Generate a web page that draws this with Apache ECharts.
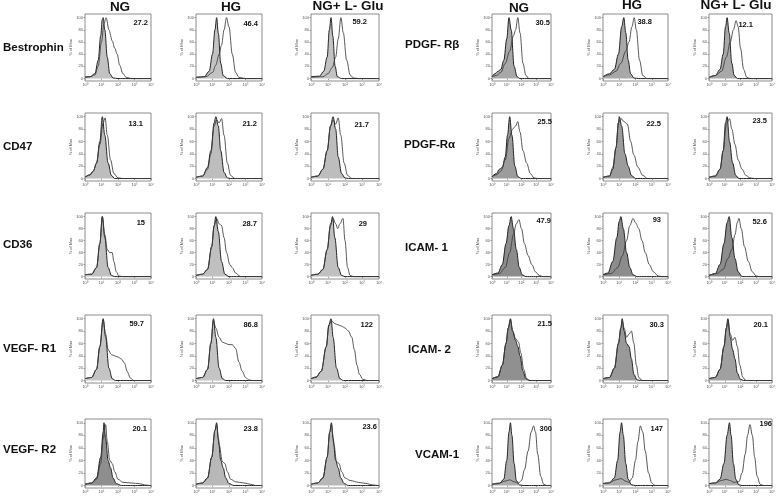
<!DOCTYPE html>
<html><head><meta charset="utf-8">
<script src="https://cdn.jsdelivr.net/npm/echarts@6/dist/echarts.min.js"></script>
<style>html,body{margin:0;padding:0;background:#fff}#c{width:781px;height:497px}</style>
</head><body><div id="c"></div>
<script>
// ---------- text / categories ----------
const leftMarkers = ['Bestrophin', 'CD47', 'CD36', 'VEGF- R1', 'VEGF- R2'];
const rightMarkers = ['PDGF- R\u03b2', 'PDGF-R\u03b1', 'ICAM- 1', 'ICAM- 2', 'VCAM-1'];
const conditions = ['NG', 'HG', 'NG+ L- Glu', 'NG', 'HG', 'NG+ L- Glu'];
const xTickValues = [0, 1, 2, 3, 4];            // log10 decades
const xTickLabels = ['10\u2070', '10\u00b9', '10\u00b2', '10\u00b3', '10\u2074'];
const yTickValues = [0, 20, 40, 60, 80, 100];
const yAxisTitle = '% of Max';

// MFI numbers shown in each panel (row by row, 6 columns)
const mfiRow1 = ['27.2', '46.4', '59.2', '30.5', '38.8', '12.1'];
const mfiRow2 = ['13.1', '21.2', '21.7', '25.5', '22.5', '23.5'];
const mfiRow3 = ['15', '28.7', '29', '47.9', '93', '52.6'];
const mfiRow4 = ['59.7', '86.8', '122', '21.5', '30.3', '20.1'];
const mfiRow5 = ['20.1', '23.8', '23.6', '300', '147', '196'];

// ---------- histogram curves: [log10 fluorescence, % of max] ----------
// Bestrophin
const bestNG_ctrl = [[0,2],[0.3,3],[0.6,8],[0.8,30],[0.95,70],[1.05,97],[1.1,100],[1.2,80],[1.35,35],[1.5,8],[1.7,1],[2,0],[4,0]];
const bestNG_samp = [[0,3],[0.3,3],[0.6,6],[0.8,20],[1.0,60],[1.15,90],[1.28,100],[1.45,80],[1.65,62],[1.8,50],[1.95,40],[2.1,22],[2.3,8],[2.5,2],[2.8,0],[4,0]];
const bestHG_ctrl = [[0,2],[0.5,3],[0.8,12],[1.0,40],[1.15,80],[1.25,100],[1.35,75],[1.5,25],[1.65,5],[1.9,0],[4,0]];
const bestHG_samp = [[0,2],[0.6,3],[1.0,10],[1.2,22],[1.4,40],[1.55,55],[1.7,80],[1.85,100],[2.0,85],[2.2,40],[2.4,10],[2.6,2],[3,0],[4,0]];
const bestGlu_ctrl = [[0,3],[0.5,4],[0.75,12],[0.95,35],[1.08,80],[1.18,100],[1.28,70],[1.42,20],[1.55,3],[1.8,0],[4,0]];
const bestGlu_samp = [[0,2],[0.7,3],[1.0,8],[1.25,18],[1.45,35],[1.6,65],[1.76,100],[1.9,75],[2.1,30],[2.3,6],[2.5,1],[2.8,0],[4,0]];
// PDGF-Rbeta
const pdgfbNG_ctrl = [[0,3],[0.2,8],[0.4,12],[0.6,15],[0.8,30],[1.0,65],[1.15,100],[1.3,80],[1.5,20],[1.7,3],[1.9,0],[4,0]];
const pdgfbNG_samp = [[0,3],[0.3,5],[0.6,10],[0.9,25],[1.2,45],[1.45,70],[1.6,80],[1.75,100],[1.9,75],[2.1,25],[2.3,5],[2.5,0],[4,0]];
const pdgfbHG_ctrl = [[0,3],[0.4,8],[0.7,15],[0.95,40],[1.15,85],[1.28,100],[1.4,75],[1.55,30],[1.7,8],[1.9,1],[2.2,0],[4,0]];
const pdgfbHG_samp = [[0,3],[0.4,6],[0.8,12],[1.1,25],[1.4,45],[1.6,60],[1.78,85],[1.92,100],[2.05,80],[2.25,30],[2.45,5],[2.7,0],[4,0]];
const pdgfbGlu_ctrl = [[0,2],[0.4,5],[0.7,15],[0.9,40],[1.05,85],[1.15,100],[1.28,75],[1.45,25],[1.6,5],[1.8,0],[4,0]];
const pdgfbGlu_samp = [[0,2],[0.4,5],[0.8,12],[1.1,35],[1.35,60],[1.55,80],[1.72,95],[1.85,85],[2.0,50],[2.2,15],[2.4,2],[2.6,0],[4,0]];
// CD47
const cd47NG_ctrl = [[0,2],[0.3,6],[0.5,12],[0.7,25],[0.9,60],[1.05,100],[1.2,70],[1.4,25],[1.6,5],[1.8,0],[4,0]];
const cd47NG_samp = [[0,2],[0.3,6],[0.5,12],[0.7,25],[0.9,55],[1.1,90],[1.22,98],[1.35,70],[1.55,30],[1.75,8],[2.0,1],[2.3,0],[4,0]];
const cd47HG_ctrl = [[0,2],[0.4,4],[0.7,18],[0.9,45],[1.1,90],[1.2,100],[1.35,85],[1.5,45],[1.7,10],[1.9,1],[2.1,0],[4,0]];
const cd47HG_samp = [[0,2],[0.4,4],[0.7,15],[0.9,40],[1.1,85],[1.25,95],[1.4,90],[1.55,97],[1.7,70],[1.9,25],[2.1,5],[2.35,0],[4,0]];
const cd47Glu_ctrl = [[0,2],[0.4,4],[0.7,15],[0.95,45],[1.15,85],[1.3,100],[1.45,80],[1.6,35],[1.8,8],[2.0,1],[2.2,0],[4,0]];
const cd47Glu_samp = [[0,2],[0.4,4],[0.7,15],[0.95,45],[1.15,85],[1.3,95],[1.45,88],[1.6,98],[1.75,70],[1.95,25],[2.15,5],[2.4,0],[4,0]];
// PDGF-Ralpha
const pdgfaNG_ctrl = [[0,3],[0.3,8],[0.5,15],[0.7,18],[0.9,35],[1.05,70],[1.2,100],[1.35,70],[1.55,20],[1.75,3],[2.0,0],[4,0]];
const pdgfaNG_samp = [[0,3],[0.3,6],[0.6,12],[0.9,30],[1.15,65],[1.4,80],[1.6,85],[1.75,92],[1.9,75],[2.1,45],[2.35,25],[2.6,8],[2.85,1],[3.1,0],[4,0]];
const pdgfaHG_ctrl = [[0,2],[0.4,4],[0.6,15],[0.8,50],[0.95,90],[1.0,100],[1.15,85],[1.35,40],[1.55,20],[1.75,5],[2.0,0],[4,0]];
const pdgfaHG_samp = [[0,2],[0.4,4],[0.6,18],[0.8,50],[0.95,90],[1.1,97],[1.3,92],[1.5,88],[1.7,60],[1.9,38],[2.15,18],[2.45,5],[2.75,0],[4,0]];
const pdgfaGlu_ctrl = [[0,2],[0.4,4],[0.7,15],[0.9,45],[1.05,90],[1.15,100],[1.3,60],[1.5,25],[1.7,5],[1.9,0],[4,0]];
const pdgfaGlu_samp = [[0,2],[0.4,4],[0.7,15],[0.9,45],[1.1,88],[1.3,97],[1.45,80],[1.65,55],[1.85,30],[2.1,15],[2.35,5],[2.6,1],[2.9,0],[4,0]];
// CD36
const cd36NG_ctrl = [[0,3],[0.4,4],[0.7,15],[0.9,55],[1.05,100],[1.2,65],[1.4,15],[1.6,2],[1.8,0],[4,0]];
const cd36NG_samp = [[0,3],[0.4,4],[0.7,15],[0.9,55],[1.05,100],[1.2,70],[1.35,45],[1.5,40],[1.65,40],[1.75,25],[1.9,8],[2.05,1],[2.3,0],[4,0]];
const cd36HG_ctrl = [[0,2],[0.4,4],[0.7,12],[0.95,50],[1.1,85],[1.2,100],[1.35,75],[1.55,25],[1.75,4],[2.0,0],[4,0]];
const cd36HG_samp = [[0,2],[0.4,4],[0.7,12],[0.95,50],[1.1,85],[1.25,97],[1.4,88],[1.55,85],[1.7,65],[1.85,40],[2.05,20],[2.2,15],[2.4,6],[2.7,0],[4,0]];
const cd36Glu_ctrl = [[0,2],[0.4,4],[0.7,12],[0.95,45],[1.15,85],[1.27,100],[1.4,65],[1.6,15],[1.8,2],[2.0,0],[4,0]];
const cd36Glu_samp = [[0,2],[0.4,4],[0.7,12],[0.95,45],[1.15,88],[1.3,97],[1.45,88],[1.57,80],[1.7,88],[1.88,97],[2.0,60],[2.15,15],[2.3,2],[2.5,0],[4,0]];
// ICAM-1
const icam1NG_ctrl = [[0,3],[0.4,6],[0.7,20],[0.95,55],[1.15,85],[1.3,100],[1.45,80],[1.65,45],[1.85,15],[2.05,3],[2.3,0],[4,0]];
const icam1NG_samp = [[0,3],[0.5,5],[0.9,15],[1.2,40],[1.45,70],[1.65,88],[1.82,95],[2.0,80],[2.2,55],[2.45,35],[2.7,20],[2.95,8],[3.2,2],[3.45,0],[4,0]];
const icam1HG_ctrl = [[0,3],[0.3,6],[0.6,25],[0.85,65],[1.0,92],[1.1,100],[1.25,80],[1.45,40],[1.65,15],[1.85,3],[2.1,0],[4,0]];
const icam1HG_samp = [[0,3],[0.5,5],[0.9,15],[1.2,35],[1.45,60],[1.65,85],[1.85,97],[2.0,90],[2.2,80],[2.4,60],[2.6,40],[2.85,20],[3.1,8],[3.4,1],[3.6,0],[4,0]];
const icam1Glu_ctrl = [[0,2],[0.4,5],[0.7,20],[0.95,55],[1.15,90],[1.28,100],[1.45,65],[1.65,30],[1.85,8],[2.1,0],[4,0]];
const icam1Glu_samp = [[0,2],[0.5,5],[0.9,12],[1.2,30],[1.45,45],[1.65,70],[1.8,90],[1.9,97],[2.05,80],[2.25,50],[2.5,25],[2.75,8],[3.0,1],[3.2,0],[4,0]];
// VEGF-R1
const vr1NG_ctrl = [[0,3],[0.4,5],[0.7,18],[0.9,55],[1.1,100],[1.25,70],[1.45,20],[1.65,3],[1.85,0],[4,0]];
const vr1NG_samp = [[0,3],[0.4,5],[0.7,18],[0.9,55],[1.1,98],[1.25,75],[1.4,50],[1.6,42],[1.8,40],[2.0,38],[2.2,35],[2.4,28],[2.55,15],[2.75,4],[2.95,0],[4,0]];
const vr1HG_ctrl = [[0,3],[0.4,5],[0.7,18],[0.9,60],[1.06,100],[1.2,70],[1.4,20],[1.6,3],[1.8,0],[4,0]];
const vr1HG_samp = [[0,3],[0.4,5],[0.7,18],[0.9,60],[1.06,97],[1.2,85],[1.4,70],[1.6,62],[1.8,60],[2.0,58],[2.2,58],[2.4,52],[2.6,30],[2.8,15],[3.0,5],[3.2,1],[3.4,0],[4,0]];
const vr1Glu_ctrl = [[0,3],[0.3,5],[0.6,15],[0.9,55],[1.05,90],[1.18,100],[1.3,70],[1.5,20],[1.7,3],[1.9,0],[4,0]];
const vr1Glu_samp = [[0,3],[0.3,6],[0.6,15],[0.9,55],[1.05,88],[1.2,97],[1.4,92],[1.6,90],[1.8,88],[2.0,85],[2.2,80],[2.4,70],[2.55,50],[2.7,25],[2.85,10],[3.05,2],[3.3,0],[4,0]];
// ICAM-2
const icam2NG_ctrl = [[0,3],[0.4,6],[0.7,25],[0.95,60],[1.1,85],[1.25,100],[1.4,80],[1.6,65],[1.75,55],[1.9,40],[2.1,15],[2.3,3],[2.5,0],[4,0]];
const icam2NG_samp = [[0,3],[0.4,6],[0.7,25],[0.95,60],[1.1,85],[1.25,98],[1.4,80],[1.6,68],[1.8,62],[1.95,45],[2.15,18],[2.35,3],[2.6,0],[4,0]];
const icam2HG_ctrl = [[0,3],[0.4,5],[0.7,20],[0.95,60],[1.1,85],[1.18,100],[1.3,80],[1.45,60],[1.6,55],[1.75,35],[1.9,10],[2.1,1],[2.3,0],[4,0]];
const icam2HG_samp = [[0,3],[0.4,5],[0.7,20],[0.95,60],[1.1,85],[1.18,97],[1.3,85],[1.45,70],[1.6,75],[1.75,80],[1.9,60],[2.05,25],[2.2,5],[2.4,0],[4,0]];
const icam2Glu_ctrl = [[0,3],[0.4,5],[0.7,18],[0.95,55],[1.1,85],[1.2,100],[1.35,70],[1.5,50],[1.65,35],[1.8,12],[2.0,2],[2.2,0],[4,0]];
const icam2Glu_samp = [[0,3],[0.4,5],[0.7,18],[0.95,55],[1.1,85],[1.2,97],[1.35,75],[1.5,65],[1.65,70],[1.8,55],[1.95,25],[2.15,5],[2.35,0],[4,0]];
// VEGF-R2
const vr2NG_ctrl = [[0,2],[0.4,4],[0.7,12],[0.95,45],[1.1,85],[1.15,100],[1.25,75],[1.4,40],[1.55,28],[1.7,12],[1.9,3],[2.2,0],[4,0]];
const vr2NG_samp = [[0,2],[0.4,4],[0.7,10],[0.95,35],[1.1,75],[1.25,97],[1.35,70],[1.5,40],[1.65,35],[1.8,22],[2.0,10],[2.3,5],[2.8,4],[3.3,3],[3.6,1],[3.9,0],[4,0]];
const vr2HG_ctrl = [[0,2],[0.4,4],[0.7,12],[0.95,45],[1.15,88],[1.25,100],[1.35,75],[1.5,40],[1.65,28],[1.8,12],[2.0,3],[2.3,0],[4,0]];
const vr2HG_samp = [[0,2],[0.4,4],[0.7,12],[0.95,45],[1.15,88],[1.25,97],[1.4,65],[1.6,38],[1.75,35],[1.9,22],[2.1,10],[2.4,6],[2.9,4],[3.3,2],[3.6,0],[4,0]];
const vr2Glu_ctrl = [[0,2],[0.4,4],[0.7,12],[0.95,45],[1.1,85],[1.2,100],[1.3,75],[1.45,40],[1.6,28],[1.75,12],[1.95,3],[2.2,0],[4,0]];
const vr2Glu_samp = [[0,2],[0.4,4],[0.7,12],[0.95,45],[1.1,85],[1.2,97],[1.35,65],[1.5,38],[1.65,35],[1.8,22],[2.0,12],[2.3,8],[2.8,5],[3.3,3],[3.6,1],[3.9,0],[4,0]];
// VCAM-1
const vcamNG_ctrl = [[0,2],[0.5,3],[0.8,10],[1.0,40],[1.15,85],[1.25,100],[1.35,80],[1.5,35],[1.65,8],[1.85,1],[2.1,0],[4,0]];
const vcamNG_samp = [[0,2],[0.5,4],[0.9,7],[1.2,9],[1.5,6],[1.8,4],[2.0,8],[2.2,25],[2.45,55],[2.65,85],[2.82,95],[2.95,85],[3.1,50],[3.3,15],[3.5,2],[3.7,0],[4,0]];
const vcamHG_ctrl = [[0,3],[0.4,4],[0.7,12],[0.9,40],[1.05,85],[1.14,100],[1.25,80],[1.4,35],[1.55,10],[1.75,1],[2.0,0],[4,0]];
const vcamHG_samp = [[0,3],[0.4,5],[0.8,9],[1.1,11],[1.4,7],[1.6,5],[1.8,12],[2.0,40],[2.15,70],[2.3,95],[2.45,85],[2.6,55],[2.8,20],[3.0,4],[3.2,0],[4,0]];
const vcamGlu_ctrl = [[0,3],[0.4,4],[0.7,10],[0.95,35],[1.15,80],[1.3,100],[1.4,80],[1.55,35],[1.7,10],[1.9,1],[2.1,0],[4,0]];
const vcamGlu_samp = [[0,3],[0.4,4],[0.8,8],[1.1,10],[1.3,8],[1.6,5],[1.9,6],[2.1,20],[2.3,50],[2.45,80],[2.6,97],[2.75,80],[2.9,45],[3.05,15],[3.25,2],[3.45,0],[4,0]];

// panel order: row by row, columns NG/HG/Glu (left marker) then NG/HG/Glu (right marker)
const panelCurves = [
  [bestNG_ctrl, bestNG_samp], [bestHG_ctrl, bestHG_samp], [bestGlu_ctrl, bestGlu_samp],
  [pdgfbNG_ctrl, pdgfbNG_samp], [pdgfbHG_ctrl, pdgfbHG_samp], [pdgfbGlu_ctrl, pdgfbGlu_samp],
  [cd47NG_ctrl, cd47NG_samp], [cd47HG_ctrl, cd47HG_samp], [cd47Glu_ctrl, cd47Glu_samp],
  [pdgfaNG_ctrl, pdgfaNG_samp], [pdgfaHG_ctrl, pdgfaHG_samp], [pdgfaGlu_ctrl, pdgfaGlu_samp],
  [cd36NG_ctrl, cd36NG_samp], [cd36HG_ctrl, cd36HG_samp], [cd36Glu_ctrl, cd36Glu_samp],
  [icam1NG_ctrl, icam1NG_samp], [icam1HG_ctrl, icam1HG_samp], [icam1Glu_ctrl, icam1Glu_samp],
  [vr1NG_ctrl, vr1NG_samp], [vr1HG_ctrl, vr1HG_samp], [vr1Glu_ctrl, vr1Glu_samp],
  [icam2NG_ctrl, icam2NG_samp], [icam2HG_ctrl, icam2HG_samp], [icam2Glu_ctrl, icam2Glu_samp],
  [vr2NG_ctrl, vr2NG_samp], [vr2HG_ctrl, vr2HG_samp], [vr2Glu_ctrl, vr2Glu_samp],
  [vcamNG_ctrl, vcamNG_samp], [vcamHG_ctrl, vcamHG_samp], [vcamGlu_ctrl, vcamGlu_samp]
];
const mfiAll = [mfiRow1, mfiRow2, mfiRow3, mfiRow4, mfiRow5];

// ---------- layout & style (not data) ----------
const colL = [85, 196, 311, 492, 603, 709];
const colR = [151, 262, 379, 551, 668, 772];
const rowT = [14, 113, 213, 315, 419];
const rowB = [81, 181, 279, 383, 488];
// value label [right x, center y]
const mfiPos = [
  [[148,23],[258,24],[367,22],[550,23],[652,22],[753,25]],
  [[143,124],[257,124],[369,125],[552,122],[661,124],[767,121]],
  [[145,223],[257,224],[367,224],[551,221],[661,220],[767,222]],
  [[144,324],[258,325],[373,325],[552,324],[664,325],[768,325]],
  [[147,429],[258,429],[377,427],[552,429],[663,429],[772,424]]
];
const fills = [
  '#c2c2c2','#c2c2c2','#c2c2c2','#a8a8a8','#a8a8a8','#a8a8a8',
  '#bdbdbd','#bdbdbd','#bdbdbd','#9c9c9c','#9c9c9c','#9c9c9c',
  '#c0c0c0','#c0c0c0','#c0c0c0','#8c8c8c','#8c8c8c','#8c8c8c',
  '#c4c4c4','#c4c4c4','#c4c4c4','#909090','#999999','#a0a0a0',
  '#8e8e8e','#b8b8b8','#b8b8b8','#ababab','#ababab','#ababab'
];

const grids = [], xAxes = [], yAxes = [], series = [], graphics = [];
for (let r = 0; r < 5; r++) {
  for (let c = 0; c < 6; c++) {
    const i = r * 6 + c;
    grids.push({
      left: colL[c], top: rowT[r], width: colR[c] - colL[c], height: rowB[r] - rowT[r],
      show: true, borderColor: '#6e6e6e', borderWidth: 0.8, backgroundColor: '#fff'
    });
    xAxes.push({
      gridIndex: i, type: 'value', min: 0, max: 4,
      axisLine: { show: false }, splitLine: { show: false },
      axisTick: { show: true, length: 1.5, lineStyle: { color: '#666', width: 0.6 }, customValues: xTickValues },
      axisLabel: { fontSize: 4, color: '#555', margin: 2, fontFamily: 'Liberation Sans',
        customValues: xTickValues, formatter: v => xTickLabels[Math.round(v)] }
    });
    yAxes.push({
      gridIndex: i, type: 'value', min: -4, max: 106,
      name: yAxisTitle, nameLocation: 'middle', nameGap: 9, nameRotate: 90,
      nameTextStyle: { fontSize: 4, color: '#555', fontFamily: 'Liberation Sans' },
      axisLine: { show: false }, splitLine: { show: false },
      axisTick: { show: true, length: 1.5, lineStyle: { color: '#666', width: 0.6 }, customValues: yTickValues },
      axisLabel: { fontSize: 4, color: '#555', margin: 2, fontFamily: 'Liberation Sans', customValues: yTickValues }
    });
    const [ctrl, samp] = panelCurves[i];
    series.push({
      type: 'line', xAxisIndex: i, yAxisIndex: i, data: ctrl, showSymbol: false,
      smooth: 0.35, smoothMonotone: 'x',
      lineStyle: { color: '#222', width: 1.0 },
      areaStyle: { color: fills[i], opacity: 1, origin: 0 }, z: 2
    });
    series.push({
      type: 'line', xAxisIndex: i, yAxisIndex: i, data: samp, showSymbol: false,
      smooth: 0.35, smoothMonotone: 'x',
      lineStyle: { color: '#3a3a3a', width: 0.85 }, z: 3
    });
    const p = mfiPos[r][c];
    graphics.push({ type: 'text', x: p[0], y: p[1], z: 10,
      style: { text: mfiAll[r][c], textAlign: 'right', textVerticalAlign: 'middle',
        font: 'bold 7.5px "Liberation Sans"', fill: '#111' } });
  }
}
// marker labels
const leftLabelPos = [[3,48],[3,147],[3,245],[3,349],[3,450]];
const rightLabelPos = [[405,45],[404,145],[405,248],[408,350],[415,455]];
for (let r = 0; r < 5; r++) {
  graphics.push({ type: 'text', x: leftLabelPos[r][0], y: leftLabelPos[r][1],
    style: { text: leftMarkers[r], textAlign: 'left', textVerticalAlign: 'middle',
      font: 'bold 11.5px "Liberation Sans"', fill: '#111' } });
  graphics.push({ type: 'text', x: rightLabelPos[r][0], y: rightLabelPos[r][1],
    style: { text: rightMarkers[r], textAlign: 'left', textVerticalAlign: 'middle',
      font: 'bold 11.5px "Liberation Sans"', fill: '#111' } });
}
// column headers
const headPos = [[120,7],[231,7],[348,6],[519,8],[632,5],[736,5]];
for (let c = 0; c < 6; c++) {
  graphics.push({ type: 'text', x: headPos[c][0], y: headPos[c][1],
    style: { text: conditions[c], textAlign: 'center', textVerticalAlign: 'middle',
      font: 'bold 13.5px "Liberation Sans"', fill: '#111' } });
}

const chart = echarts.init(document.getElementById('c'), null, { renderer: 'canvas' });
chart.setOption({
  animation: false,
  backgroundColor: '#fff',
  grid: grids, xAxis: xAxes, yAxis: yAxes, series: series,
  graphic: { elements: graphics }
});
</script></body></html>
